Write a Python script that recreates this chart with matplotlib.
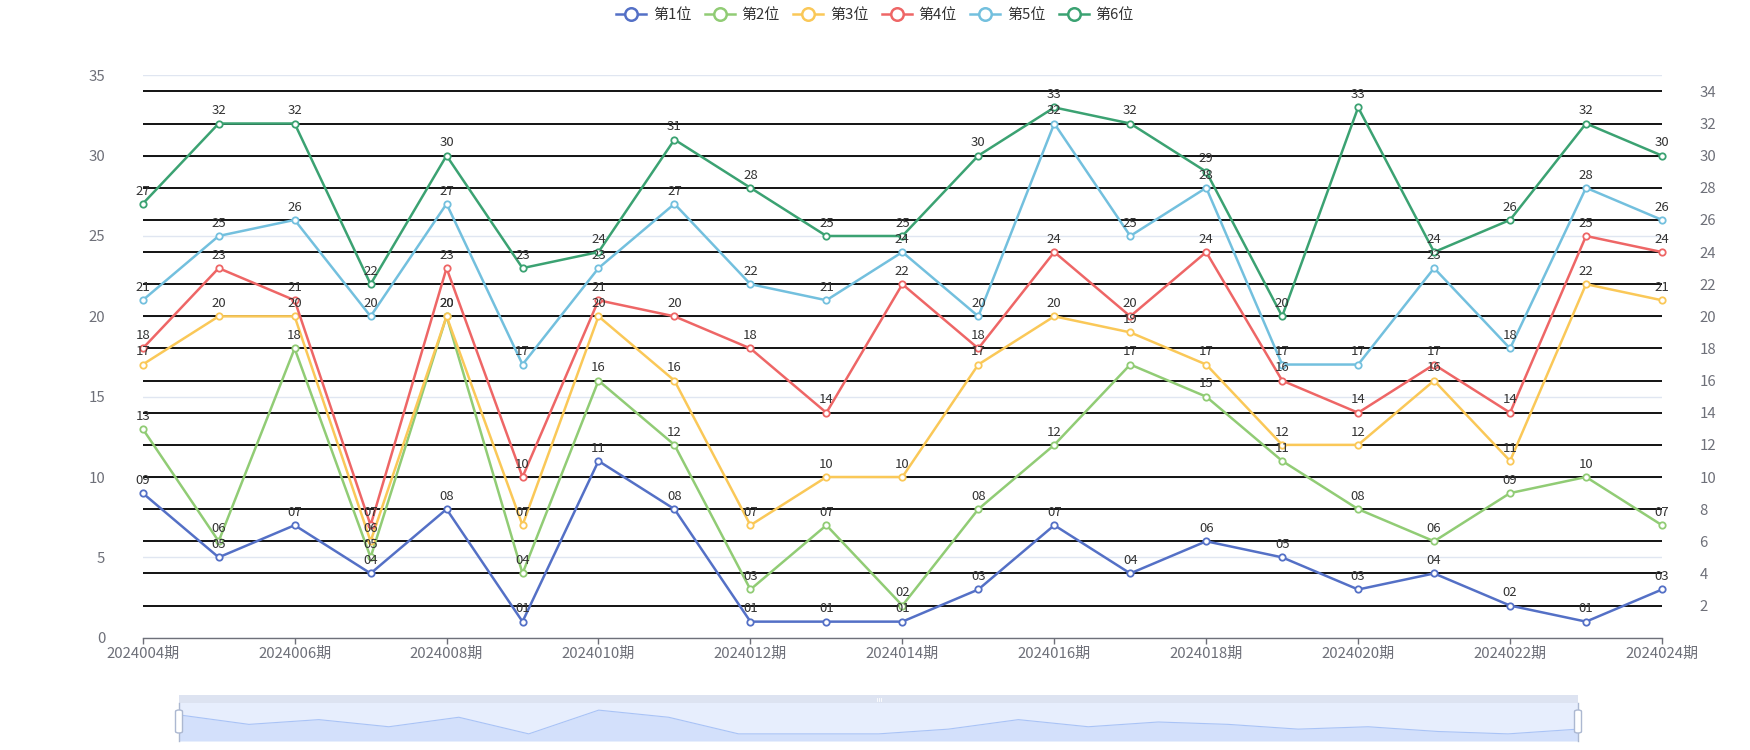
import matplotlib
matplotlib.use("Agg")
import matplotlib.pyplot as plt
from matplotlib.lines import Line2D
from matplotlib.patches import FancyBboxPatch, Rectangle

plt.rcParams['font.family'] = ['Noto Sans CJK SC', 'DejaVu Sans']

categories = [f"2024{n:03d}期" for n in range(4, 25)]
series_names = ["第1位", "第2位", "第3位", "第4位", "第5位", "第6位"]
pos1 = [9, 5, 7, 4, 8, 1, 11, 8, 1, 1, 1, 3, 7, 4, 6, 5, 3, 4, 2, 1, 3]
pos2 = [13, 6, 18, 5, 20, 4, 16, 12, 3, 7, 2, 8, 12, 17, 15, 11, 8, 6, 9, 10, 7]
pos3 = [17, 20, 20, 6, 20, 7, 20, 16, 7, 10, 10, 17, 20, 19, 17, 12, 12, 16, 11, 22, 21]
pos4 = [18, 23, 21, 7, 23, 10, 21, 20, 18, 14, 22, 18, 24, 20, 24, 16, 14, 17, 14, 25, 24]
pos5 = [21, 25, 26, 20, 27, 17, 23, 27, 22, 21, 24, 20, 32, 25, 28, 17, 17, 23, 18, 28, 26]
pos6 = [27, 32, 32, 22, 30, 23, 24, 31, 28, 25, 25, 30, 33, 32, 29, 20, 33, 24, 26, 32, 30]
left_ticks = [0, 5, 10, 15, 20, 25, 30, 35]
right_ticks = [2, 4, 6, 8, 10, 12, 14, 16, 18, 20, 22, 24, 26, 28, 30, 32, 34]

series = [pos1, pos2, pos3, pos4, pos5, pos6]
colors = ["#5470c6", "#91cc75", "#fac858", "#ee6666", "#73c0de", "#3ba272"]

W, H = 1750, 750
fig = plt.figure(figsize=(W / 100, H / 100), dpi=100)

x0, x1 = 142.7, 1662.0
y_bot, y_top = 637.7, 75.3
ax = fig.add_axes([x0 / W, (H - y_bot) / H, (x1 - x0) / W, (y_bot - y_top) / H])
ax.set_xlim(0, len(categories) - 1)
ax.set_ylim(0, 35)

axis_grey = "#6E7079"
# left axis
ax.set_yticks(left_ticks)
ax.yaxis.grid(True, color="#E0E6F1", linewidth=1.0)
ax.tick_params(axis='y', length=0, pad=27, labelsize=10.8, labelcolor=axis_grey)
for s in ["left", "right", "top"]:
    ax.spines[s].set_visible(False)
ax.spines["bottom"].set_color(axis_grey)
ax.spines["bottom"].set_linewidth(1.0)
ax.spines["bottom"].set_zorder(5)
xt = list(range(0, len(categories), 2))
ax.set_xticks(xt)
ax.set_xticklabels([categories[i] for i in xt])
ax.tick_params(axis='x', length=4.3, width=1.0, color=axis_grey, pad=2,
               labelsize=10.8, labelcolor=axis_grey)
ax.set_axisbelow(True)

# right axis (labels) + black split lines drawn above the light grid
ax2 = ax.twinx()
ax2.set_ylim(0, 35)
ax2.set_yticks(right_ticks)
ax2.tick_params(axis='y', length=0, pad=27, labelsize=10.8, labelcolor=axis_grey)
for s in ["left", "right", "top", "bottom"]:
    ax2.spines[s].set_visible(False)
ax2.set_zorder(0)
ax.set_zorder(1)
ax.patch.set_visible(False)
for t in right_ticks:
    ax.axhline(t, color="black", linewidth=1.3, zorder=1)

xs = list(range(len(categories)))
for vals, c in zip(series, colors):
    ax.plot(xs, vals, color=c, linewidth=1.8, marker='o', markersize=4.6,
            markerfacecolor='white', markeredgecolor=c, markeredgewidth=1.3,
            clip_on=False, zorder=3)
for vals in series:
    for xi, v in zip(xs, vals):
        ax.annotate(f"{v:02d}", (xi, v), xytext=(0, 4.5), textcoords='offset points',
                    ha='center', va='bottom', fontsize=9.5, color='#333333',
                    zorder=6, annotation_clip=False)

# legend
handles = [Line2D([0], [0], color=c, linewidth=1.8, marker='o', markersize=9,
                  markerfacecolor='white', markeredgecolor=c, markeredgewidth=1.8)
           for c in colors]
fig.legend(handles, series_names, loc='center', bbox_to_anchor=(0.5, 1 - 15 / H),
           ncol=6, frameon=False, fontsize=10.8, handlelength=2.0,
           handletextpad=0.45, columnspacing=0.9, labelcolor='#333333')

# data zoom slider
sx0, sx1 = 179.0, 1578.0
bar_top, body_top, body_bot = 695.0, 703.0, 741.0
fig.patches.append(Rectangle((sx0 / W, (H - body_top) / H), (sx1 - sx0) / W,
                             (body_top - bar_top) / H, transform=fig.transFigure,
                             facecolor="#DDE3F1", edgecolor='none', zorder=1))
cx = (sx0 + sx1) / 2
for dx in (-2, 0, 2):
    fig.lines.append(Line2D([(cx + dx) / W, (cx + dx) / W],
                            [(H - 697.5) / H, (H - 700.5) / H],
                            transform=fig.transFigure, color="white", linewidth=0.6, zorder=2))
axs = fig.add_axes([sx0 / W, (H - body_bot) / H, (sx1 - sx0) / W, (body_bot - body_top) / H])
axs.set_facecolor("#E7EEFD")
lo, hi = min(pos1), max(pos1)
pad = (hi - lo) * 0.3
axs.set_xlim(0, len(categories) - 1)
axs.set_ylim(lo - pad, hi + pad)
axs.fill_between(xs, pos1, lo - pad, color="#D3E0FB", linewidth=0)
axs.plot(xs, pos1, color="#A9C3F6", linewidth=0.8)
axs.set_xticks([])
axs.set_yticks([])
for s in axs.spines.values():
    s.set_visible(False)
for hx in (sx0, sx1):
    fig.lines.append(Line2D([hx / W, hx / W], [(H - body_top) / H, (H - body_bot) / H],
                            transform=fig.transFigure, color="#ACB8D1", linewidth=1.0))
    fig.patches.append(FancyBboxPatch(((hx - 3.5) / W, (H - 733) / H), 7 / W, 23 / H,
                                      boxstyle="round,pad=0,rounding_size=0.002",
                                      transform=fig.transFigure, facecolor="white",
                                      edgecolor="#ACB8D1", linewidth=1.0, zorder=5))

fig.savefig("out.png", dpi=100)
